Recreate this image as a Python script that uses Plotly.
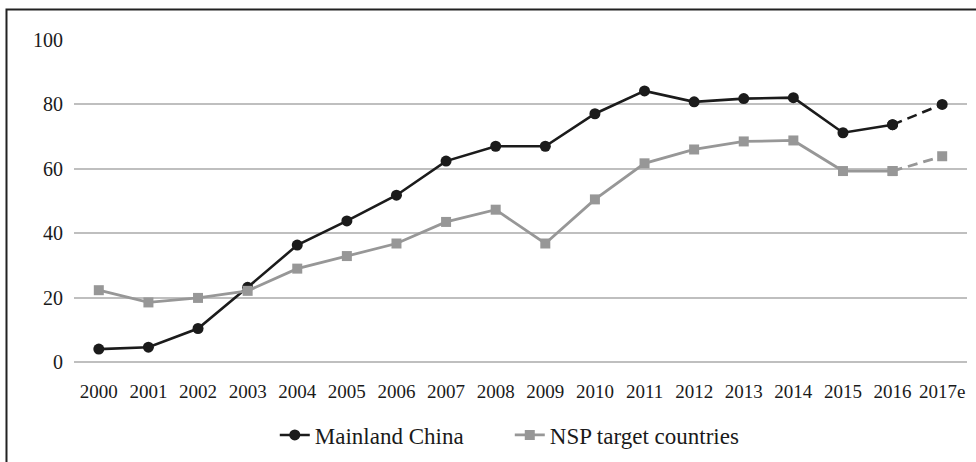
import plotly.graph_objects as go

years = ["2000", "2001", "2002", "2003", "2004", "2005", "2006", "2007", "2008",
         "2009", "2010", "2011", "2012", "2013", "2014", "2015", "2016", "2017e"]
china = [4.0, 4.6, 10.4, 23.2, 36.3, 43.8, 51.8, 62.4, 67.0, 67.0, 77.1, 84.2,
         80.8, 81.8, 82.1, 71.2, 73.7, 80.0]
nsp = [22.3, 18.5, 19.9, 22.1, 29.0, 32.9, 36.8, 43.5, 47.3, 36.8, 50.5, 61.7,
       66.0, 68.5, 68.8, 59.3, 59.3, 63.9]
y_ticks = [0, 20, 40, 60, 80, 100]

BLACK = "#1b1b1b"
GRAY = "#979797"
FONT = "Liberation Serif, DejaVu Serif, serif"

fig = go.Figure()
# solid (actual) parts
fig.add_trace(go.Scatter(x=years[:-1], y=china[:-1], mode="lines+markers",
                         name="Mainland China",
                         line=dict(color=BLACK, width=2.6),
                         marker=dict(symbol="circle", size=11, color=BLACK)))
fig.add_trace(go.Scatter(x=years[:-1], y=nsp[:-1], mode="lines+markers",
                         name="NSP target countries",
                         line=dict(color=GRAY, width=2.8),
                         marker=dict(symbol="square", size=10, color=GRAY)))
# dashed estimate segments
fig.add_trace(go.Scatter(x=years[-2:], y=china[-2:], mode="lines+markers",
                         showlegend=False,
                         line=dict(color=BLACK, width=2.6, dash="10px,6px"),
                         marker=dict(symbol="circle", size=11, color=BLACK)))
fig.add_trace(go.Scatter(x=years[-2:], y=nsp[-2:], mode="lines+markers",
                         showlegend=False,
                         line=dict(color=GRAY, width=2.8, dash="10px,6px"),
                         marker=dict(symbol="square", size=10, color=GRAY)))

fig.update_layout(
    width=976, height=462,
    margin=dict(l=74, r=9, t=40, b=100, autoexpand=False),
    paper_bgcolor="white", plot_bgcolor="white",
    font=dict(family=FONT, color="#1a1a1a", size=19),
    showlegend=True,
    legend=dict(orientation="h", x=0.488, xanchor="center", y=-0.2267, yanchor="middle",
                font=dict(size=23, family=FONT), bgcolor="rgba(0,0,0,0)",
                itemwidth=30, tracegroupgap=0, entrywidth=190),
    xaxis=dict(type="category", range=[-0.5, 17.5], showgrid=False, zeroline=False,
               showline=False, ticks="", tickangle=0, ticklabelstandoff=16,
               tickfont=dict(size=19, family=FONT)),
    yaxis=dict(range=[0, 100], tickvals=y_ticks, showgrid=True, gridcolor="#bfbfbf",
               gridwidth=1.5, zeroline=True, zerolinecolor="#bfbfbf", zerolinewidth=1.5,
               showline=False, ticks="", ticklabelstandoff=10,
               tickfont=dict(size=20, family=FONT)),
    shapes=[dict(type="rect", xref="paper", yref="paper",
                 x0=-0.0756, x1=1.2, y0=-1.0, y1=1.095,
                 line=dict(color="#222222", width=2), layer="below")],
)

fig.write_html("out.html", config={"displayModeBar": False},
               post_script="document.body.style.margin='0';document.body.style.padding='0';")
